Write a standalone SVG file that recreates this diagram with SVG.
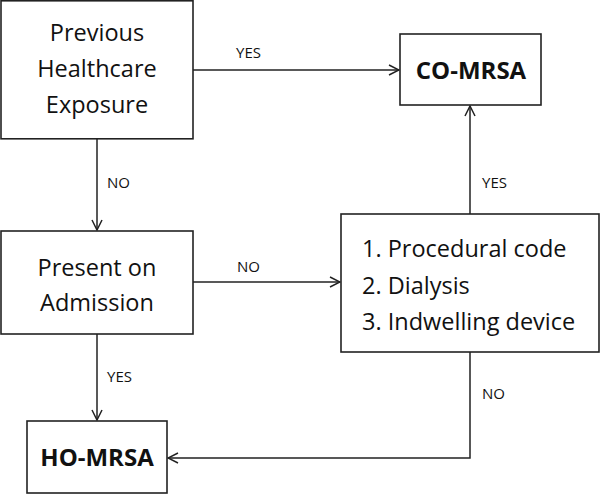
<svg xmlns="http://www.w3.org/2000/svg" width="600" height="494" viewBox="0 0 600 494">
<defs>
<style>
.box{fill:#fff;stroke:#222;stroke-width:1.6}
.t{font-family:"Open Sans","Liberation Sans",sans-serif;font-size:23.5px;fill:#111;text-anchor:middle}
.tl{font-family:"Open Sans","Liberation Sans",sans-serif;font-size:23.5px;fill:#111}
.b{font-family:"Open Sans","Liberation Sans",sans-serif;font-size:24px;font-weight:bold;fill:#111;text-anchor:middle}
.lab{font-family:"Open Sans","Liberation Sans",sans-serif;font-size:15px;fill:#111}
.c{fill:none;stroke:#222;stroke-width:1.5}
</style>
<marker id="ah" viewBox="0 0 12 12" refX="11" refY="6" markerWidth="12" markerHeight="12" markerUnits="userSpaceOnUse" orient="auto">
<path d="M1,1 L11,6 L1,11" fill="none" stroke="#222" stroke-width="1.5"/>
</marker>
</defs>
<g id="connectors">
<line class="c" x1="193" y1="70" x2="399" y2="70" marker-end="url(#ah)"/>
<line class="c" x1="97" y1="139" x2="97" y2="230" marker-end="url(#ah)"/>
<line class="c" x1="193" y1="282" x2="340" y2="282" marker-end="url(#ah)"/>
<line class="c" x1="470" y1="214" x2="470" y2="106" marker-end="url(#ah)"/>
<line class="c" x1="97" y1="334" x2="97" y2="420" marker-end="url(#ah)"/>
<polyline class="c" points="470,352 470,458 168,458" marker-end="url(#ah)"/>
<text class="lab" x="236" y="58">YES</text>
<text class="lab" x="107" y="188">NO</text>
<text class="lab" x="237" y="272">NO</text>
<text class="lab" x="482" y="188">YES</text>
<text class="lab" x="107" y="382">YES</text>
<text class="lab" x="482" y="399">NO</text>
</g>
<g id="prev">
<rect class="box" x="1" y="0.8" width="192" height="138"/>
<text class="t" x="97" y="41">Previous</text>
<text class="t" x="97" y="77">Healthcare</text>
<text class="t" x="97" y="113">Exposure</text>
</g>
<g id="co">
<rect class="box" x="400" y="34" width="141" height="71"/>
<text class="b" x="471" y="79">CO-MRSA</text>
</g>
<g id="poa">
<rect class="box" x="1" y="231" width="192" height="103"/>
<text class="t" x="97" y="276">Present on</text>
<text class="t" x="97" y="311">Admission</text>
</g>
<g id="crit">
<rect class="box" x="341" y="214" width="258" height="138"/>
<text class="tl" x="362" y="257">1. Procedural code</text>
<text class="tl" x="362" y="294">2. Dialysis</text>
<text class="tl" x="362" y="330">3. Indwelling device</text>
</g>
<g id="ho">
<rect class="box" x="27" y="421" width="140" height="72"/>
<text class="b" x="97" y="466">HO-MRSA</text>
</g>
</svg>
